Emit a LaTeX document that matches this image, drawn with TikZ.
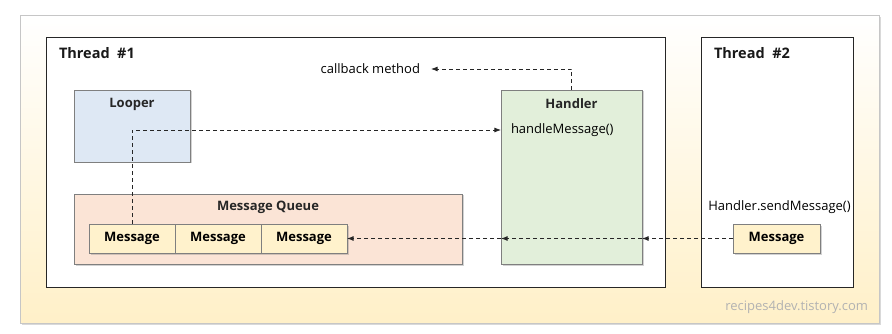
\documentclass[tikz,border=0pt]{standalone}
\usepackage{fontspec}
\setmainfont{Open Sans}
\usetikzlibrary{positioning, arrows.meta, shadows}
\definecolor{PanelYl} {HTML}{FFF0C8}
\definecolor{LooperBl}{HTML}{DEE8F4}
\definecolor{HandlGrn}{HTML}{E2EFDA}
\definecolor{QueuePk} {HTML}{FBE4D6}
\definecolor{MsgYl}   {HTML}{FFF2CC}
\definecolor{EdgeGry} {HTML}{7F7F7F}

\begin{document}
\begin{tikzpicture}[
  x=1pt, y=-1pt, >=Latex,
  font=\fontsize{13}{15}\selectfont,
  every node/.style={inner sep=0pt, outer sep=0pt},
  panel/.style  = {draw=gray!45, top color=white, bottom color=PanelYl, anchor=north west,
                   drop shadow={shadow xshift=2pt, shadow yshift=-2pt, opacity=0.3}},
  thread/.style = {draw=black!85, fill=white, line width=0.9pt, anchor=north west},
  comp/.style   = {draw=EdgeGry, line width=0.7pt, anchor=north west,
                   drop shadow={shadow xshift=1.5pt, shadow yshift=-1.5pt, opacity=0.35}},
  msg/.style    = {comp, fill=MsgYl, minimum width=86pt, minimum height=29pt,
                   font=\fontsize{13}{15}\selectfont\bfseries},
  title/.style  = {font=\fontsize{13}{15}\selectfont\bfseries, text=black!85},
  thtitle/.style= {font=\fontsize{14.5}{17}\selectfont\bfseries, text=black!90, anchor=west},
  flow/.style   = {->, dash pattern=on 4pt off 3pt, line width=0.8pt, black!85},
]
\useasboundingbox (0,0) rectangle (892,334);

% ── Background panel and threads ─────────────────────────────────────────────
\node[panel, minimum width=859pt, minimum height=308pt] (panel) at (20,15) {};
\node[thread, minimum width=619pt, minimum height=250pt] (th1) at (46,37) {};
\node[thread, minimum width=152pt, minimum height=250pt] (th2) at (701,37) {};
\node[thtitle] (th1t) at (59,53) {Thread\ \ \#1};
\node[thtitle] (th2t) at (714,53) {Thread\ \ \#2};

% ── Thread #1 components ─────────────────────────────────────────────────────
\node[comp, fill=LooperBl, minimum width=116pt, minimum height=72pt] (looper) at (74,90) {};
\node[title] (loopert) at (132,104) {Looper};

\node[comp, fill=HandlGrn, minimum width=141pt, minimum height=174pt] (handler) at (501,90) {};
\node[title] (handlert) at (571.5,104) {Handler};
\node[anchor=west] (hm) at (511,130) {handleMessage()};

\node[comp, fill=QueuePk, minimum width=388pt, minimum height=70pt] (queue) at (74,194) {};
\node[title] (queuet) at (268,207) {Message Queue};
\node[msg] (q1) at (89,224)  {Message};
\node[msg] (q2) at (175,224) {Message};
\node[msg] (q3) at (261,224) {Message};

\node[anchor=east] (cb) at (420,69) {callback method};

% ── Thread #2 ────────────────────────────────────────────────────────────────
\node (send) at (779.5,207) {Handler.sendMessage()};
\node[msg, minimum width=87pt] (tmsg) at (733,224) {Message};

\node[anchor=east, text=gray!60] (site) at (868,307) {recipes4dev.tistory.com};

% ── Arrows ───────────────────────────────────────────────────────────────────
\draw[flow] (handler.north) |- ([xshift=11pt]cb.east);
\draw[flow] (q1.north) |- (handler.west |- hm.west);
\draw[flow] (tmsg.west) -- (handler.east |- tmsg.west);
\draw[flow] (handler.east |- tmsg.west) -- (handler.west |- tmsg.west);
\draw[flow] (handler.west |- tmsg.west) -- (q3.east);

\end{tikzpicture}
\end{document}
